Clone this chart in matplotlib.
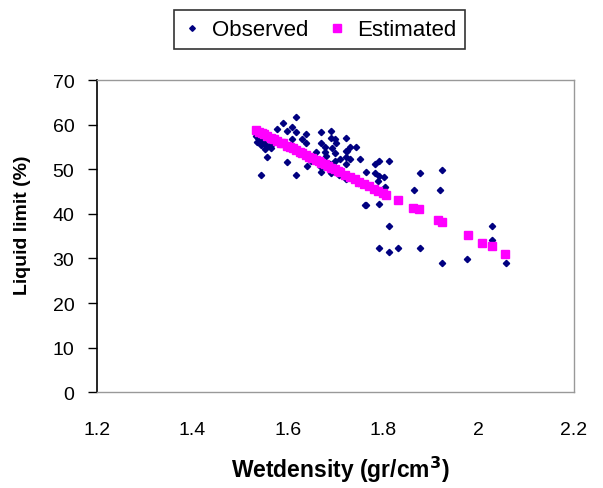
import matplotlib
matplotlib.use("Agg")
import matplotlib.pyplot as plt

plt.rcParams['font.family'] = ['Liberation Sans', 'DejaVu Sans']

# Observed data (wet density, liquid limit)
obs_x = [1.533, 1.535, 1.538, 1.542, 1.543, 1.544, 1.544, 1.550, 1.557, 1.557, 1.564, 1.566,
         1.577, 1.589, 1.598, 1.598, 1.609, 1.609, 1.617, 1.617, 1.618, 1.629, 1.638, 1.638,
         1.640, 1.649, 1.658, 1.670, 1.670, 1.670, 1.670, 1.677, 1.678, 1.679, 1.689, 1.690,
         1.690, 1.690, 1.693, 1.698, 1.698, 1.699, 1.700, 1.708, 1.709, 1.722, 1.722, 1.722,
         1.722, 1.722, 1.723, 1.730, 1.730, 1.743, 1.748, 1.751, 1.762, 1.763, 1.763, 1.783,
         1.783, 1.788, 1.791, 1.791, 1.792, 1.792, 1.802, 1.804, 1.812, 1.812, 1.812, 1.831,
         1.864, 1.876, 1.876, 1.918, 1.924, 1.924, 1.976, 2.029, 2.029, 2.057, 1.552, 1.560]
obs_y = [57.5, 56.2, 57.0, 57.9, 56.8, 55.4, 48.7, 56.0, 55.3, 52.8, 54.7, 55.6,
         59.1, 60.4, 58.6, 51.7, 59.6, 56.9, 58.3, 48.7, 61.7, 56.9, 57.9, 56.0,
         50.8, 51.9, 53.8, 58.3, 55.8, 50.6, 49.3, 54.9, 53.8, 53.0, 51.2, 58.7,
         57.1, 49.1, 54.7, 56.8, 53.6, 51.9, 55.8, 48.8, 52.3, 57.0, 54.1, 52.7,
         51.2, 47.8, 54.1, 54.9, 52.4, 54.9, 47.0, 52.4, 41.9, 49.5, 42.0, 51.2,
         49.1, 47.4, 48.5, 32.3, 51.9, 42.3, 48.3, 46.1, 51.9, 37.3, 31.5, 32.3,
         45.3, 49.1, 32.3, 45.3, 49.9, 28.9, 29.8, 37.3, 34.1, 28.9, 54.5, 57.0]

# Estimated data
est_x = [1.533, 1.540, 1.545, 1.550, 1.557, 1.565, 1.570, 1.578, 1.585, 1.590, 1.598, 1.605,
         1.610, 1.617, 1.625, 1.630, 1.638, 1.645, 1.650, 1.658, 1.665, 1.670, 1.678, 1.685,
         1.690, 1.698, 1.705, 1.710, 1.720, 1.730, 1.740, 1.750, 1.760, 1.770, 1.780, 1.790,
         1.800, 1.806, 1.830, 1.863, 1.875, 1.915, 1.923, 1.977, 2.008, 2.028, 2.056]
est_y = [58.8, 58.4, 58.2, 57.9, 57.5, 57.1, 56.8, 56.4, 56.0, 55.8, 55.3, 55.0,
         54.7, 54.3, 53.9, 53.6, 53.2, 52.8, 52.6, 52.1, 51.8, 51.5, 51.1, 50.7,
         50.4, 50.0, 49.6, 49.4, 48.8, 48.3, 47.8, 47.2, 46.7, 46.2, 45.6, 45.1,
         44.6, 44.2, 43.2, 41.4, 41.1, 38.6, 38.1, 35.2, 33.5, 32.7, 31.0]

x_ticks = [1.2, 1.4, 1.6, 1.8, 2.0, 2.2]
x_ticklabels = ['1.2', '1.4', '1.6', '1.8', '2', '2.2']
y_ticks = [0, 10, 20, 30, 40, 50, 60, 70]

fig = plt.figure(figsize=(6.03, 4.89), dpi=100)
ax = fig.add_axes([0.161, 0.196, 0.791, 0.638])

ax.plot(obs_x, obs_y, linestyle='none', marker='D', markersize=3.2,
        color='#000080', label='Observed', zorder=3)
ax.plot(est_x, est_y, linestyle='none', marker='s', markersize=5.8,
        color='#FF00FF', label='Estimated', zorder=4)

ax.set_xlim(1.2, 2.2)
ax.set_ylim(0, 70)
ax.set_xticks(x_ticks)
ax.set_xticklabels(x_ticklabels)
ax.set_yticks(y_ticks)
ax.tick_params(axis='x', length=0, pad=21, labelsize=14)
ax.tick_params(axis='y', length=6.3, width=1, direction='out', pad=10, labelsize=14)

for side in ['top', 'right', 'bottom']:
    ax.spines[side].set_color('#999999')
    ax.spines[side].set_linewidth(1)
ax.spines['left'].set_color('black')
ax.spines['left'].set_linewidth(1.2)

ax.set_xlabel('Wetdensity (gr/cm$^\\mathbf{3}$)', fontsize=16.5, fontweight='bold',
              va='center', ha='center')
ax.xaxis.set_label_coords(0.511, -0.247)
ax.set_ylabel('Liquid limit (%)', fontsize=14, fontweight='bold',
              va='center', ha='center')
ax.yaxis.set_label_coords(-0.157, 0.538)

leg = fig.legend(loc='center', bbox_to_anchor=(0.530, 0.937), ncol=2, fontsize=16,
                 frameon=True, fancybox=False, edgecolor='black', handlelength=0.8,
                 handletextpad=0.5, columnspacing=0.9, borderpad=0.4,
                 markerscale=0.9)
leg.get_frame().set_linewidth(1.2)

fig.savefig('out.png', dpi=100)
